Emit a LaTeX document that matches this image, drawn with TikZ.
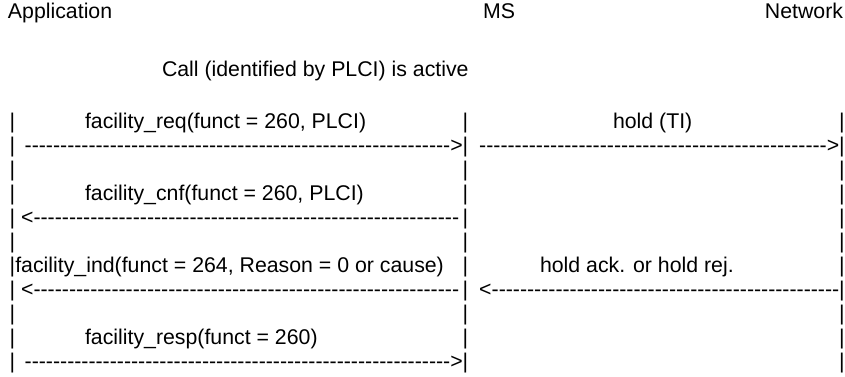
\documentclass[tikz,border=0pt]{standalone}
\usepackage{fontspec}
\setmainfont{Liberation Sans}
\ExplSyntaxOn
\NewDocumentCommand\myrep{mm}{\prg_replicate:nn{#1}{#2}}
\ExplSyntaxOff
\newcommand\hy{-\kern0pt}
\begin{document}
\begin{tikzpicture}[x=1pt,y=-1pt,
  txt/.style={inner sep=0pt,outer sep=0pt,anchor=base west,font=\fontsize{21.3}{25}\selectfont},
  txtr/.style={txt,anchor=base east},
  bar/.style={txt,anchor=base}]
\useasboundingbox (0,0) rectangle (845,376);
% header
\node[txt]  (app) at (8,18) {Application};
\node[txt]  (ms)  at (483,18) {MS};
\node[txtr] (net) at (843,18) {Network};
\node[txt]  (call) at (162,76) {Call (identified by PLCI) is active};
% life lines (pipe characters)
\foreach \r [count=\i] in {128,152,...,368}{
  \node[bar] (L\i) at (12.5,\r) {|};
  \node[bar] (M\i) at (465.5,\r) {|};
  \node[bar] (R\i) at (842,\r) {|};
}
% messages
\node[txt] (req) at (85,128) {facility\_req(funct = 260, PLCI)};
\node[txt] (hold) at (613,128) {hold (TI)};
\node[txtr] (a1) at ([xshift=-2.77pt]M2.base) {\myrep{60}{\hy}>};
\node[txtr] (a2) at ([xshift=-2.77pt]R2.base) {\myrep{49}{\hy}>};
\node[txt] (cnf) at (85,200) {facility\_cnf(funct = 260, PLCI)};
\node[txt] (a3) at (21.1,224) {<\myrep{60}{\hy}};
\node[txt] (ind) at (15.3,272) {facility\_ind(funct = 264, Reason = 0 or cause)};
\node[txt] (ack) at (540,272) {hold ack. or hold rej.};
\node[txt] (a4) at (21.1,296) {<\myrep{60}{\hy}};
\node[txtr] (a5) at ([xshift=-2.77pt]R8.base) {<\myrep{49}{\hy}};
\node[txt] (resp) at (85,344) {facility\_resp(funct = 260)};
\node[txtr] (a6) at ([xshift=-2.77pt]M11.base) {\myrep{60}{\hy}>};
\end{tikzpicture}
\end{document}
